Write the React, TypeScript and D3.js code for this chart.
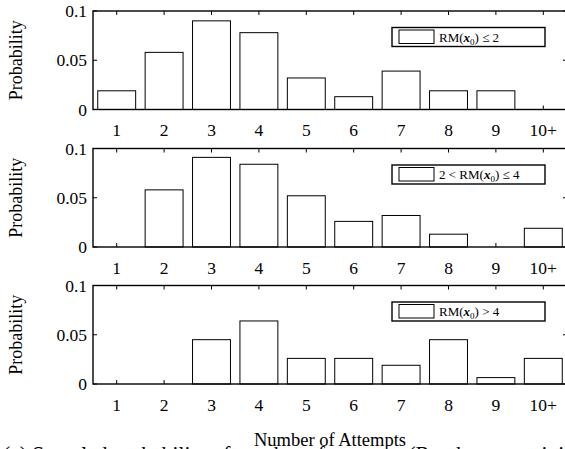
import React from "react";
import * as d3 from "d3";

const categories = ["1", "2", "3", "4", "5", "6", "7", "8", "9", "10+"];
const seriesLow = [0.019, 0.058, 0.09, 0.078, 0.032, 0.013, 0.039, 0.019, 0.019, 0];
const seriesMid = [0, 0.058, 0.091, 0.084, 0.052, 0.026, 0.032, 0.013, 0, 0.019];
const seriesHigh = [0, 0, 0.045, 0.064, 0.026, 0.026, 0.019, 0.045, 0.0065, 0.026];
const yTicks = [0, 0.05, 0.1];
const yTickLabels = ["0", "0.05", "0.1"];
const legendPre = ["", "2 < ", ""];
const legendPost = [" ≤ 2", " ≤ 4", " > 4"];
const panels = [seriesLow, seriesMid, seriesHigh];

const W = 565;
const H = 449;
const left = 93;
const right = 567;
const panelTops = [11, 148.5, 285.5];
const panelH = 98.5;
const font = "'Liberation Serif', 'Times New Roman', serif";

const x = d3.scaleLinear().domain([0.5, 10.5]).range([left, right]);
const barW = x(1.4) - x(0.6);

function Panel({ data, top, idx }: { data: number[]; top: number; idx: number }) {
  const y = d3.scaleLinear().domain([0, 0.1]).range([top + panelH, top]);
  const bottom = top + panelH;
  const tick = 4;
  return (
    <g>
      {categories.map((c, i) => (
        <g key={"t" + i}>
          <line x1={x(i + 1)} x2={x(i + 1)} y1={top} y2={top + tick} stroke="#000" strokeWidth={1} />
          <line x1={x(i + 1)} x2={x(i + 1)} y1={bottom} y2={bottom - tick} stroke="#000" strokeWidth={1} />
          <text x={x(i + 1)} y={bottom + 26.5} textAnchor="middle" fontSize={17.5} fontFamily={font}>
            {c}
          </text>
        </g>
      ))}
      {yTicks.map((t, i) => (
        <g key={"y" + i}>
          <line x1={left} x2={left + tick} y1={y(t)} y2={y(t)} stroke="#000" />
          <line x1={right} x2={right - tick} y1={y(t)} y2={y(t)} stroke="#000" />
          <text x={87} y={y(t) + 6} textAnchor="end" fontSize={17.5} fontFamily={font}>
            {yTickLabels[i]}
          </text>
        </g>
      ))}
      {data.map((v, i) => (
        <rect
          key={"b" + i}
          x={x(i + 1) - barW / 2}
          y={y(v)}
          width={barW}
          height={bottom - y(v)}
          fill="#fff"
          stroke="#000"
          strokeWidth={1}
        />
      ))}
      <rect x={left} y={top} width={right - left} height={panelH} fill="none" stroke="#000" strokeWidth={1.4} />
      <text
        transform={`translate(22,${top + panelH / 2}) rotate(-90)`}
        textAnchor="middle"
        fontSize={18}
        fontFamily={font}
      >
        Probability
      </text>
      <g>
        <rect x={392} y={top + 16.5} width={153} height={19} fill="#fff" stroke="#000" strokeWidth={1.4} />
        <rect x={399} y={top + 19} width={35} height={13.5} fill="#fff" stroke="#000" strokeWidth={1} />
        <text x={439} y={top + 30.5} fontSize={13} fontFamily={font}>
          {legendPre[idx]}RM(
          <tspan fontStyle="italic" fontWeight="bold">x</tspan>
          <tspan fontSize={9} dy={3}>0</tspan>
          <tspan dy={-3}>){legendPost[idx]}</tspan>
        </text>
      </g>
    </g>
  );
}

export default function App() {
  return (
    <svg width={W} height={H} style={{ position: "absolute", left: 0, top: 0, background: "#fff" }}>
      <rect width={W} height={H} fill="#fff" />
      {panels.map((d, i) => (
        <Panel key={i} data={d} top={panelTops[i]} idx={i} />
      ))}
      <text x={(left + right) / 2} y={446} textAnchor="middle" fontSize={18.5} fontFamily={font}>
        Number of Attempts
      </text>
      <text x={3} y={461} fontSize={21.5} fontFamily={font}>
        (a) Sampled probability of number of attempts (Random start, initial
      </text>
    </svg>
  );
}
